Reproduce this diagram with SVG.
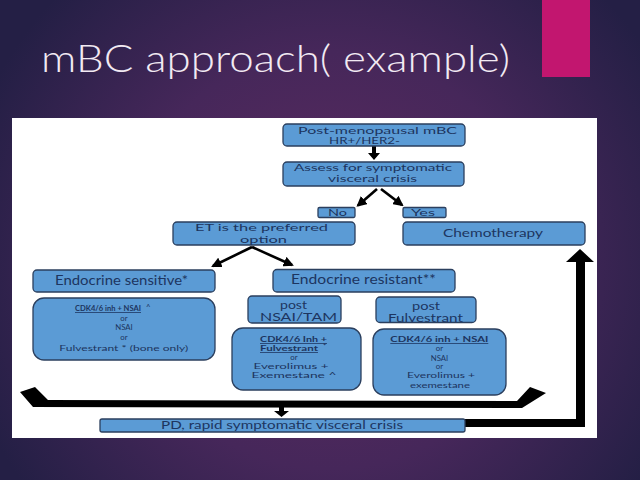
<svg xmlns="http://www.w3.org/2000/svg" width="640" height="480" viewBox="0 0 640 480">
<defs>
<radialGradient id="bg" cx="330" cy="260" r="380" gradientUnits="userSpaceOnUse">
<stop offset="0" stop-color="#5e2b60"/>
<stop offset="0.55" stop-color="#46275a"/>
<stop offset="1" stop-color="#241f45"/>
</radialGradient>
<marker id="ah" viewBox="0 0 10 10" refX="8" refY="5" markerWidth="4" markerHeight="4" orient="auto" markerUnits="strokeWidth">
<path d="M0,0 L10,5 L0,10 z" fill="#000"/>
</marker>
<style>
.box{fill:#5b9bd5;stroke:#2b3f5e;stroke-width:1.3}
.t{font-family:Lato,"Open Sans","Liberation Sans",sans-serif;fill:#1d3560;text-anchor:middle}
.m{font-size:10px}
.s{font-size:7.8px}
.b{font-weight:bold;text-decoration:underline}
.ar{stroke:#000;stroke-width:2.6;fill:none;marker-end:url(#ah)}
</style>
</defs>
<rect width="640" height="480" fill="url(#bg)"/>
<rect x="542" y="0" width="48" height="77" fill="#c2166f"/>
<text x="41" y="72" font-family="Lato,'Open Sans','Liberation Sans',sans-serif" font-weight="300" font-size="37" fill="#f2eaf3" textLength="469" lengthAdjust="spacingAndGlyphs">mBC approach( example)</text>
<rect x="12" y="118" width="585" height="320" fill="#ffffff"/>

<g id="connectors">
<polygon points="372,146 376,146 376,153 380,153 374,160 368,153 372,153" fill="#000"/>
<line class="ar" x1="377" y1="189" x2="358" y2="205.5"/>
<line class="ar" x1="381" y1="189" x2="402" y2="205"/>
<line class="ar" x1="252" y1="247" x2="213" y2="266"/>
<line class="ar" x1="252" y1="247" x2="292" y2="265"/>
<polygon points="48,400 35,387 20,392 33,407 522,408 546,393 530,387 517,401" fill="#000"/>
<polygon points="279,407 284,407 284,411 289,411 281.5,417 274,411 279,411" fill="#000"/>
<polygon points="465,419 576,419 576,262 566,262 580,249 594,262 585,262 585,427 465,427" fill="#000"/>
</g>

<g id="n1"><rect class="box" x="283" y="124" width="182" height="22" rx="4"/>
<text class="t m" x="377.5" y="133.5" textLength="159" lengthAdjust="spacingAndGlyphs">Post-menopausal mBC</text>
<text class="t m" x="364.5" y="144" textLength="71" lengthAdjust="spacingAndGlyphs">HR+/HER2-</text></g>

<g id="n2"><rect class="box" x="283" y="162" width="181" height="24" rx="4"/>
<text class="t m" x="373" y="171" textLength="158" lengthAdjust="spacingAndGlyphs">Assess for symptomatic</text>
<text class="t m" x="372.5" y="182" textLength="89" lengthAdjust="spacingAndGlyphs">visceral crisis</text></g>

<g id="no"><rect class="box" x="318" y="207.5" width="37" height="10" rx="1.5"/>
<text class="t" x="337.5" y="216" font-size="10" textLength="19" lengthAdjust="spacingAndGlyphs">No</text></g>

<g id="yes"><rect class="box" x="403" y="207.5" width="43" height="10" rx="1.5"/>
<text class="t" x="423" y="216" font-size="10" textLength="24" lengthAdjust="spacingAndGlyphs">Yes</text></g>

<g id="et"><rect class="box" x="173" y="222" width="182" height="23" rx="4"/>
<text class="t m" x="261.5" y="231" textLength="133" lengthAdjust="spacingAndGlyphs">ET is the preferred</text>
<text class="t m" x="263.5" y="242.5" textLength="47" lengthAdjust="spacingAndGlyphs">option</text></g>

<g id="chemo"><rect class="box" x="403" y="222" width="182" height="23" rx="4"/>
<text class="t" x="493" y="237" font-size="12" textLength="100" lengthAdjust="spacingAndGlyphs">Chemotherapy</text></g>

<g id="sens"><rect class="box" x="33" y="270" width="182" height="22" rx="4"/>
<text class="t" x="121.5" y="285" font-size="13" textLength="133" lengthAdjust="spacingAndGlyphs">Endocrine sensitive*</text></g>

<g id="sensopt"><rect class="box" x="33" y="298" width="182" height="62" rx="11"/>
<text class="t s b" x="108" y="311" textLength="66" lengthAdjust="spacingAndGlyphs">CDK4/6 inh + NSAI</text><text class="t s" x="146" y="310" style="text-anchor:start">^</text>
<text class="t s" x="124" y="320.5">or</text>
<text class="t s" x="124" y="330">NSAI</text>
<text class="t s" x="124" y="340">or</text>
<text class="t s" x="123.8" y="350.5" textLength="129" lengthAdjust="spacingAndGlyphs">Fulvestrant * (bone only)</text></g>

<g id="resist"><rect class="box" x="273" y="269.5" width="182" height="22.5" rx="4"/>
<text class="t" x="363.5" y="284" font-size="13" textLength="145" lengthAdjust="spacingAndGlyphs">Endocrine resistant**</text></g>

<g id="postnsai"><rect class="box" x="248" y="296" width="93" height="27" rx="4"/>
<text class="t" x="293.5" y="308.5" font-size="11" textLength="27" lengthAdjust="spacingAndGlyphs">post</text>
<text class="t" x="298.5" y="320.5" font-size="11" textLength="77" lengthAdjust="spacingAndGlyphs">NSAI/TAM</text></g>

<g id="nsaiopt"><rect class="box" x="232" y="328" width="129" height="62" rx="11"/>
<text class="t s b" x="293.5" y="342" textLength="67" lengthAdjust="spacingAndGlyphs">CDK4/6 Inh +</text>
<text class="t s b" x="289" y="351" textLength="58" lengthAdjust="spacingAndGlyphs">Fulvestrant</text><text class="t s" x="323" y="349" style="text-anchor:start">*</text>
<text class="t s" x="294" y="359.5">or</text>
<text class="t s" x="291" y="368.5" textLength="75" lengthAdjust="spacingAndGlyphs">Everolimus +</text>
<text class="t s" x="294" y="377.5" textLength="85" lengthAdjust="spacingAndGlyphs">Exemestane ^</text></g>

<g id="postfulv"><rect class="box" x="376" y="297" width="100" height="25.5" rx="4"/>
<text class="t" x="426" y="310" font-size="11" textLength="28" lengthAdjust="spacingAndGlyphs">post</text>
<text class="t" x="425.5" y="321.5" font-size="11" textLength="75" lengthAdjust="spacingAndGlyphs">Fulvestrant</text></g>

<g id="fulvopt"><rect class="box" x="373" y="329" width="133" height="66" rx="11"/>
<text class="t s b" x="439.3" y="342" textLength="98" lengthAdjust="spacingAndGlyphs">CDK4/6 inh + NSAI</text>
<text class="t s" x="439.5" y="351">or</text>
<text class="t s" x="439.5" y="360.5">NSAI</text>
<text class="t s" x="439.5" y="369">or</text>
<text class="t s" x="441" y="378" textLength="68" lengthAdjust="spacingAndGlyphs">Everolimus +</text>
<text class="t s" x="440" y="388" textLength="60" lengthAdjust="spacingAndGlyphs">exemestane</text></g>

<g id="pd"><rect class="box" x="100" y="419" width="365" height="13" rx="2"/>
<text class="t" x="282" y="429" font-size="10.5" textLength="242" lengthAdjust="spacingAndGlyphs">PD, rapid symptomatic visceral crisis</text></g>
</svg>
